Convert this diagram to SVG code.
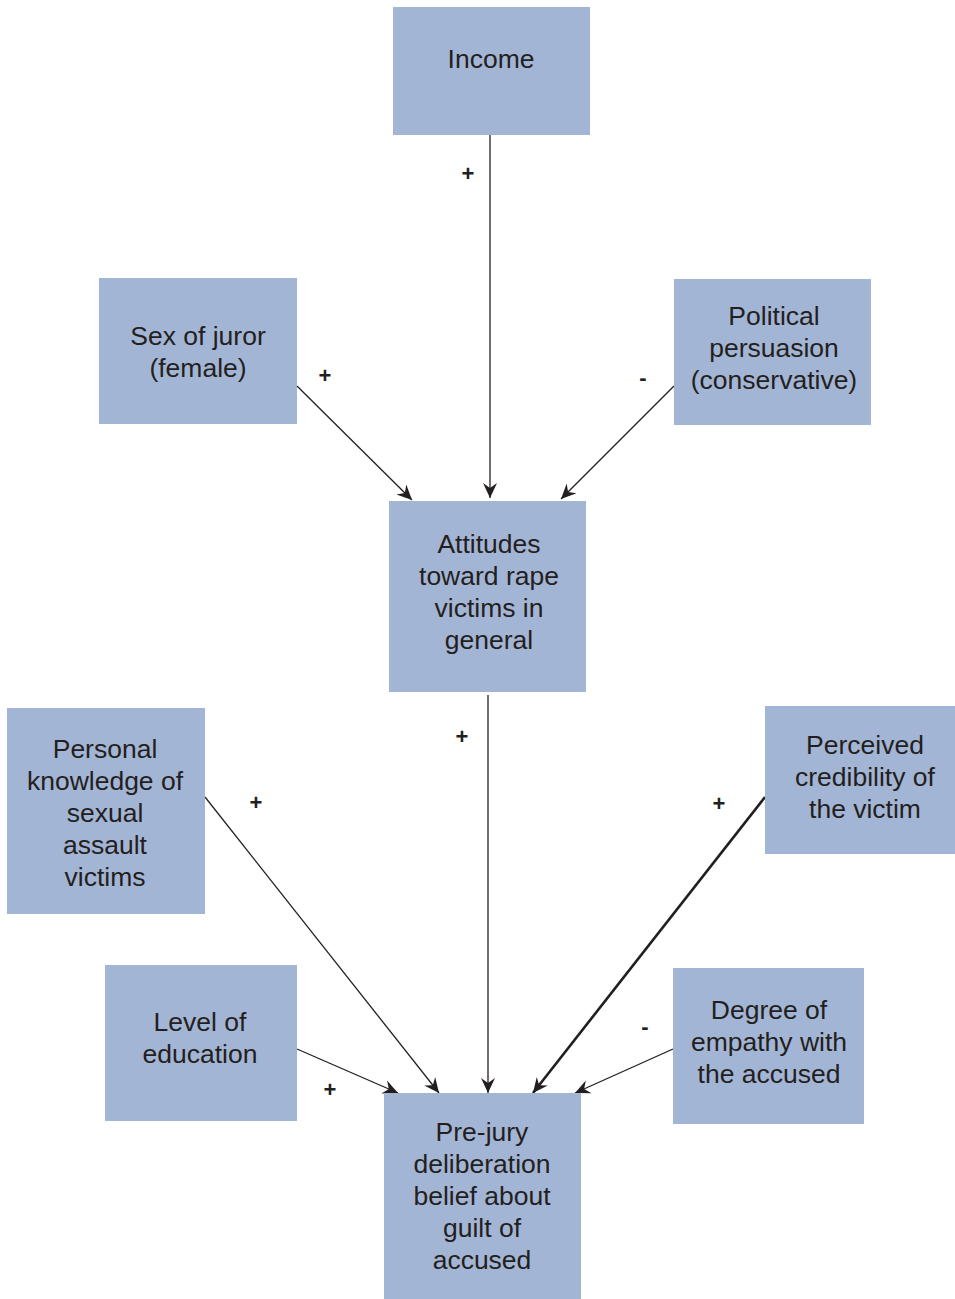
<svg xmlns="http://www.w3.org/2000/svg" width="955" height="1299" viewBox="0 0 955 1299">
<style>
.box{fill:#a3b5d5;}
.t{font-family:"Liberation Sans",Arial,sans-serif;font-size:26.5px;fill:#231f20;text-anchor:middle;}
.s{font-family:"Liberation Sans",Arial,sans-serif;font-size:22px;font-weight:bold;fill:#231f20;text-anchor:middle;}
.c{stroke:#231f20;stroke-width:1.3;fill:none;marker-end:url(#ah);}
.thick{stroke-width:2.6;}
</style>
<defs>
<marker id="ah" markerUnits="userSpaceOnUse" viewBox="-16 -8 18 16" refX="0" refY="0" markerWidth="18" markerHeight="16" orient="auto">
<path d="M0,0 L-15,-7 L-10,0 L-15,7 Z" fill="#231f20"/>
</marker>
</defs>
<rect width="955" height="1299" fill="#fff"/>
<g id="connectors">
<line class="c" x1="490" y1="135" x2="490" y2="498"/>
<line class="c" x1="297" y1="386" x2="412" y2="500"/>
<line class="c" x1="674" y1="386" x2="561" y2="499"/>
<line class="c" x1="488" y1="695" x2="488" y2="1093"/>
<line class="c" x1="205" y1="797" x2="439" y2="1093"/>
<line class="c thick" x1="765" y1="797" x2="533" y2="1093"/>
<line class="c" x1="297" y1="1049" x2="398" y2="1093"/>
<line class="c" x1="673" y1="1049" x2="575" y2="1093"/>
<text class="s" x="468" y="181">+</text>
<text class="s" x="325" y="383">+</text>
<text class="s" x="643" y="385">-</text>
<text class="s" x="462" y="744">+</text>
<text class="s" x="256" y="810">+</text>
<text class="s" x="719" y="811">+</text>
<text class="s" x="330" y="1097">+</text>
<text class="s" x="645" y="1034">-</text>
</g>
<g id="income"><rect class="box" x="393" y="7" width="197" height="128"/><text class="t" x="491" y="68">Income</text></g>
<g id="sex"><rect class="box" x="99" y="278" width="198" height="146"/><text class="t" x="198" y="345">Sex of juror</text><text class="t" x="198" y="377">(female)</text></g>
<g id="political"><rect class="box" x="674" y="279" width="197" height="146"/><text class="t" x="774" y="325">Political</text><text class="t" x="774" y="357">persuasion</text><text class="t" x="774" y="389">(conservative)</text></g>
<g id="attitudes"><rect class="box" x="389" y="501" width="197" height="191"/><text class="t" x="489" y="553">Attitudes</text><text class="t" x="489" y="585">toward rape</text><text class="t" x="489" y="617">victims in</text><text class="t" x="489" y="649">general</text></g>
<g id="personal"><rect class="box" x="7" y="708" width="198" height="206"/><text class="t" x="105" y="758">Personal</text><text class="t" x="105" y="790">knowledge of</text><text class="t" x="105" y="822">sexual</text><text class="t" x="105" y="854">assault</text><text class="t" x="105" y="886">victims</text></g>
<g id="perceived"><rect class="box" x="765" y="706" width="190" height="148"/><text class="t" x="865" y="754">Perceived</text><text class="t" x="865" y="786">credibility of</text><text class="t" x="865" y="818">the victim</text></g>
<g id="education"><rect class="box" x="105" y="965" width="192" height="156"/><text class="t" x="200" y="1031">Level of</text><text class="t" x="200" y="1063">education</text></g>
<g id="empathy"><rect class="box" x="673" y="968" width="191" height="156"/><text class="t" x="769" y="1019">Degree of</text><text class="t" x="769" y="1051">empathy with</text><text class="t" x="769" y="1083">the accused</text></g>
<g id="prejury"><rect class="box" x="384" y="1093" width="197" height="206"/><text class="t" x="482" y="1141">Pre-jury</text><text class="t" x="482" y="1173">deliberation</text><text class="t" x="482" y="1205">belief about</text><text class="t" x="482" y="1237">guilt of</text><text class="t" x="482" y="1269">accused</text></g>
</svg>
